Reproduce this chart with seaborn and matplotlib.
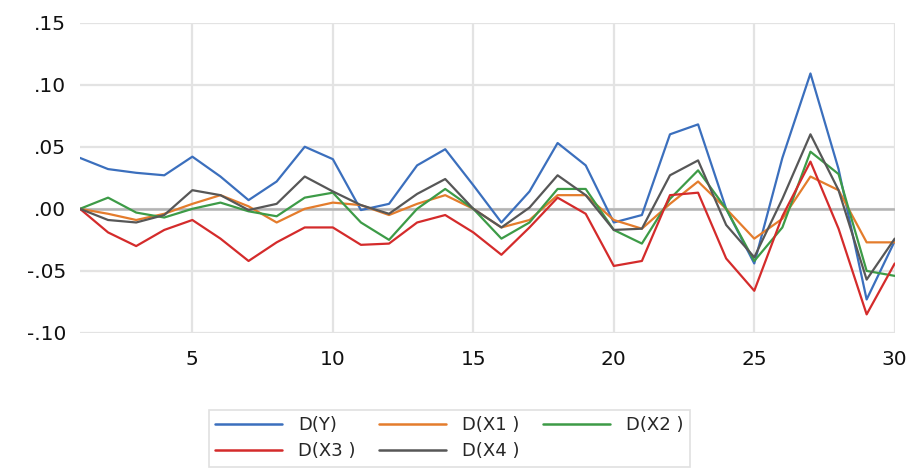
import numpy as np
import pandas as pd
import matplotlib
matplotlib.use('Agg')
import matplotlib.pyplot as plt
import seaborn as sns

# periodos 1..30
periodo = list(range(1, 31))

d_y = [0.041, 0.032, 0.029, 0.027, 0.042, 0.026, 0.007, 0.022, 0.050, 0.040,
       -0.001, 0.004, 0.035, 0.048, 0.019, -0.011, 0.014, 0.053, 0.035, -0.011,
       -0.005, 0.060, 0.068, 0.000, -0.044, 0.041, 0.109, 0.032, -0.073, -0.026]
d_x1 = [0.000, -0.004, -0.009, -0.004, 0.004, 0.011, 0.002, -0.011, 0.000, 0.005,
        0.003, -0.005, 0.004, 0.011, 0.000, -0.015, -0.009, 0.011, 0.011, -0.009,
        -0.016, 0.004, 0.022, 0.000, -0.024, -0.008, 0.026, 0.015, -0.027, -0.027]
d_x2 = [0.000, 0.009, -0.003, -0.007, 0.000, 0.005, -0.002, -0.006, 0.009, 0.013,
        -0.011, -0.025, 0.000, 0.016, 0.000, -0.024, -0.011, 0.016, 0.016, -0.017,
        -0.028, 0.008, 0.031, 0.000, -0.042, -0.015, 0.046, 0.028, -0.050, -0.054]
d_x3 = [0.000, -0.019, -0.030, -0.017, -0.009, -0.024, -0.042, -0.027, -0.015, -0.015,
        -0.029, -0.028, -0.011, -0.005, -0.019, -0.037, -0.015, 0.009, -0.004, -0.046,
        -0.042, 0.011, 0.013, -0.040, -0.066, -0.006, 0.038, -0.016, -0.085, -0.044]
d_x4 = [0.000, -0.009, -0.011, -0.005, 0.015, 0.011, -0.001, 0.004, 0.026, 0.014,
        0.003, -0.004, 0.012, 0.024, 0.000, -0.015, 0.001, 0.027, 0.011, -0.017,
        -0.016, 0.027, 0.039, -0.013, -0.039, 0.008, 0.060, 0.015, -0.057, -0.024]

series = ['D(Y)', 'D(X1)', 'D(X2)', 'D(X3)', 'D(X4)']
legend_labels = ['D(Y)', 'D(X1 )', 'D(X2 )', 'D(X3 )', 'D(X4 )']
cores = ['#3b6fbd', '#e47c2c', '#3d9b47', '#d42b2b', '#575757']

y_ticks = [-0.10, -0.05, 0.00, 0.05, 0.10, 0.15]
y_tick_labels = ['-.10', '-.05', '.00', '.05', '.10', '.15']
x_ticks = [5, 10, 15, 20, 25, 30]

df = pd.DataFrame({'Periodo': periodo, 'D(Y)': d_y, 'D(X1)': d_x1,
                   'D(X2)': d_x2, 'D(X3)': d_x3, 'D(X4)': d_x4})
df_long = df.melt(id_vars='Periodo', var_name='Serie', value_name='Valor')

sns.set_style('white')
plt.rcParams['font.family'] = ['DejaVu Sans']

fig = plt.figure(figsize=(9.13, 4.70), dpi=100)
ax = fig.add_axes([0.0876, 0.2915, 0.8924, 0.6605])

sns.lineplot(data=df_long, x='Periodo', y='Valor', hue='Serie', hue_order=series,
             palette=cores, linewidth=1.6, ax=ax, legend=False)

ax.set_xlim(1, 30)
ax.set_ylim(-0.10, 0.15)
ax.set_yticks(y_ticks)
ax.set_yticklabels(y_tick_labels)
ax.set_xticks(x_ticks)
ax.set_xlabel('')
ax.set_ylabel('')
ax.grid(True, color='#e3e3e3', linewidth=1.6)
ax.axhline(0, color='#b3b3b3', linewidth=1.8, zorder=1)
ax.set_axisbelow(True)
for s in ax.spines.values():
    s.set_visible(False)
ax.tick_params(axis='both', length=0, labelsize=14.5, colors='#111111')
ax.tick_params(axis='x', pad=12)
ax.tick_params(axis='y', pad=10)

# matplotlib preenche a legenda por coluna; reordenar para ficar por linha
ordem = [0, 3, 1, 4, 2]
handles = [plt.Line2D([], [], color=cores[i], linewidth=1.8) for i in ordem]
labels = [legend_labels[i] for i in ordem]
leg = fig.legend(handles, labels, ncol=3, loc='upper left',
                 bbox_to_anchor=(200 / 913, 1 - 401 / 470), fontsize=13,
                 frameon=True, fancybox=False, edgecolor='#d9d9d9',
                 handlelength=3.7, columnspacing=1.3, borderpad=0.35,
                 labelspacing=0.45, handletextpad=0.9)
leg.get_frame().set_linewidth(1.2)

fig.savefig('out.png', dpi=100)
